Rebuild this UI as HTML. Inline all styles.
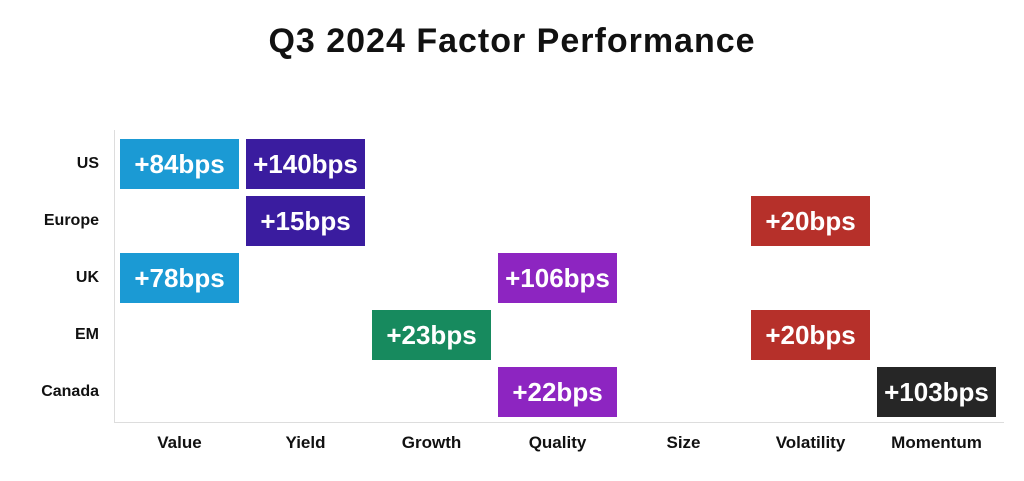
<!DOCTYPE html>
<html><head><style>
body{margin:0;width:1024px;height:481px;background:#fff;position:relative;overflow:hidden;font-family:"Liberation Sans",sans-serif}
.t{position:absolute;left:0;width:1024px;top:22px;text-align:center;font-size:34px;font-weight:bold;color:#111;letter-spacing:1px}
.c{position:absolute;width:119px;height:50px;color:#fff;font-weight:bold;font-size:26px;line-height:50px;text-align:center;letter-spacing:0px;white-space:nowrap}
.r{position:absolute;left:0;width:99px;text-align:right;font-size:16px;font-weight:bold;color:#111}
.x{position:absolute;top:433px;width:119px;text-align:center;font-size:17px;font-weight:bold;color:#111}
.B{background:#1b9ad4}.P{background:#3a1c9f}.G{background:#178a5e}.Q{background:#8d25c1}.V{background:#b6302a}.K{background:#262626}
</style></head><body>
<div class="t">Q3 2024 Factor Performance</div>
<div style="position:absolute;left:114px;top:130px;width:1px;height:293px;background:#ddd"></div>
<div style="position:absolute;left:114px;top:422px;width:890px;height:1px;background:#ddd"></div>
<div class="r" style="top:155px">US</div>
<div class="r" style="top:212px">Europe</div>
<div class="r" style="top:269px">UK</div>
<div class="r" style="top:326px">EM</div>
<div class="r" style="top:383px">Canada</div>
<div class="c B" style="left:120px;top:139px">+84bps</div>
<div class="c P" style="left:246px;top:139px">+140bps</div>
<div class="c P" style="left:246px;top:196px">+15bps</div>
<div class="c V" style="left:751px;top:196px">+20bps</div>
<div class="c B" style="left:120px;top:253px">+78bps</div>
<div class="c Q" style="left:498px;top:253px">+106bps</div>
<div class="c G" style="left:372px;top:310px">+23bps</div>
<div class="c V" style="left:751px;top:310px">+20bps</div>
<div class="c Q" style="left:498px;top:367px">+22bps</div>
<div class="c K" style="left:877px;top:367px">+103bps</div>
<div class="x" style="left:120px">Value</div>
<div class="x" style="left:246px">Yield</div>
<div class="x" style="left:372px">Growth</div>
<div class="x" style="left:498px">Quality</div>
<div class="x" style="left:624px">Size</div>
<div class="x" style="left:751px">Volatility</div>
<div class="x" style="left:877px">Momentum</div>
</body></html>
